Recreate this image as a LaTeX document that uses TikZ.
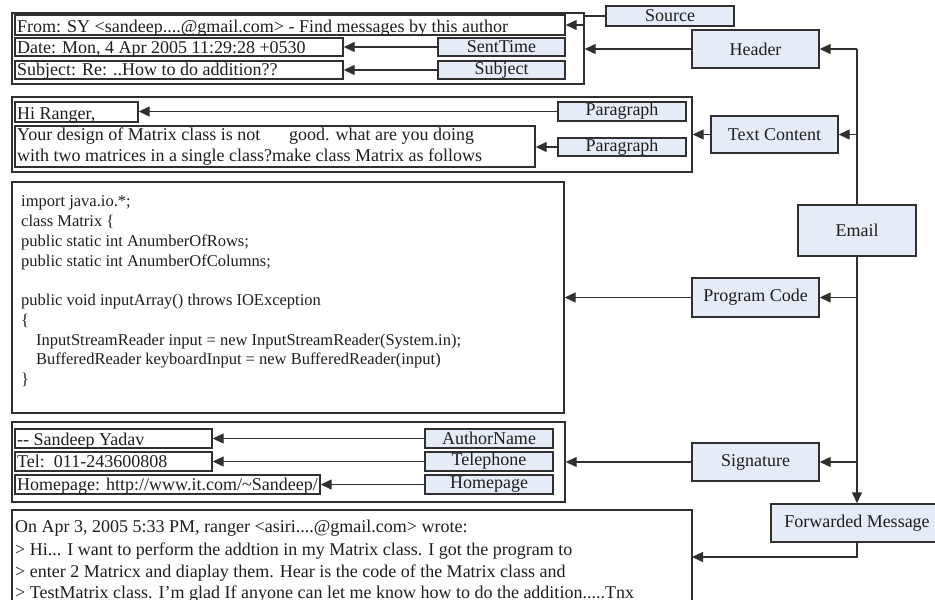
\documentclass[tikz,border=0pt]{standalone}
\usepackage{fontspec}
\setmainfont{Liberation Serif}
\usetikzlibrary{arrows.meta}
\definecolor{lblfill}{HTML}{E5ECF7}
\definecolor{edgec}{HTML}{303030}
\definecolor{txtc}{HTML}{1E1E1E}
\tikzset{
  grp/.style={draw=edgec, line width=1.4pt, inner sep=0pt},
  wbox/.style={draw=edgec, line width=1.4pt, inner sep=0pt},
  lab/.style={draw=edgec, line width=1.4pt, fill=lblfill, inner sep=0pt,
    font=\fontsize{18}{20}\selectfont, text=txtc},
  arr/.style={draw=edgec, line width=1.3pt, -{Triangle[length=11pt,width=10pt]}},
  ln/.style={draw=edgec, line width=1.3pt},
  tx/.style={anchor=base west, inner sep=0pt, font=\fontsize{18}{20}\selectfont, text=txtc},
  cx/.style={anchor=base west, inner sep=0pt, font=\fontsize{16.5}{20}\selectfont, text=txtc},
}
% \bx{style}{name}{x1}{y1}{x2}{y2}{text}
\newcommand\bx[7]{%
  \pgfmathsetmacro\bxcx{(#3+#5)/2}%
  \pgfmathsetmacro\bxcy{(#4+#6)/2}%
  \pgfmathsetmacro\bxw{#5-#3}%
  \pgfmathsetmacro\bxh{#6-#4}%
  \node[#1, minimum width=\bxw pt, minimum height=\bxh pt] (#2) at (\bxcx,\bxcy) {#7};%
}
\begin{document}
\begin{tikzpicture}[x=1pt,y=-1pt]
\useasboundingbox (0,0) rectangle (935,600);
% ---------- header group
\bx{grp}{hgrp}{12}{13}{584}{84}{}
\bx{wbox}{from}{15}{15}{565}{35}{}
\node[tx] (fromt) at (17,32) {From: SY <sandeep....@gmail.com> - Find messages by this author};
\bx{wbox}{date}{15}{38}{343}{56}{}
\node[tx] (datet) at (17,53) {Date: Mon, 4 Apr 2005 11:29:28 +0530};
\bx{lab}{st}{438}{38}{565}{56}{SentTime}
\bx{wbox}{subj}{15}{61}{343}{79}{}
\node[tx] (subjt) at (17,75) {Subject: Re: ..How to do addition??};
\bx{lab}{sb}{438}{61}{565}{79}{Subject}
\bx{lab}{src}{606}{6}{734}{26}{Source}
\bx{lab}{hdr}{692}{30}{819}{68}{Header}
% ---------- text content group
\bx{grp}{tgrp}{12}{97}{692}{172}{}
\bx{wbox}{hi}{15}{102}{138}{122}{}
\node[tx] (hit) at (17,119) {Hi Ranger,};
\bx{lab}{p1}{558}{102}{686}{121}{Paragraph}
\bx{wbox}{para}{15}{126}{535}{167}{}
\node[tx] (parat1) at (17,140) {Your design of Matrix class is not\hspace{1.6em}good. what are you doing};
\node[tx] (parat2) at (17,161) {with two matrices in a single class?make class Matrix as follows};
\bx{lab}{p2}{558}{138}{686}{156}{Paragraph}
\bx{lab}{tc}{711}{116}{838}{153}{Text Content}
% ---------- program code
\bx{grp}{code}{12}{182}{564}{413}{}
\node[cx] (c1) at (21,206) {import java.io.*;};
\node[cx] (c2) at (21,226) {class Matrix \{};
\node[cx] (c3) at (21,246) {public static int AnumberOfRows;};
\node[cx] (c4) at (21,266) {public static int AnumberOfColumns;};
\node[cx] (c5) at (21,305) {public void inputArray() throws IOException};
\node[cx] (c6) at (21,325) {\{};
\node[cx] (c7) at (36,345) {InputStreamReader input = new InputStreamReader(System.in);};
\node[cx] (c8) at (36,364) {BufferedReader keyboardInput = new BufferedReader(input)};
\node[cx] (c9) at (21,384) {\}};
\bx{lab}{pc}{692}{278}{819}{317}{Program Code}
\bx{lab}{email}{798}{205}{916}{256}{Email}
% ---------- signature
\bx{grp}{sgrp}{12}{422}{565}{502}{}
\bx{wbox}{an}{15}{429}{212}{448}{}
\node[tx] (ant) at (17,445) {-{}- Sandeep Yadav};
\bx{wbox}{tel}{15}{452}{212}{471}{}
\node[tx] (telt) at (17,467) {Tel:\ \ 011-243600808};
\bx{wbox}{hp}{15}{475}{320}{494}{}
\node[tx] (hpt) at (17,490) {Homepage: http://www.it.com/\textasciitilde Sandeep/};
\bx{lab}{anl}{425}{429}{553}{448}{AuthorName}
\bx{lab}{tell}{425}{452}{553}{471}{Telephone}
\bx{lab}{hpl}{425}{475}{553}{494}{Homepage}
\bx{lab}{sig}{692}{443}{819}{481}{Signature}
% ---------- forwarded message
\bx{grp}{fgrp}{12}{510}{692}{640}{}
\node[tx] (f1) at (15,532) {On Apr 3, 2005 5:33 PM, ranger <asiri....@gmail.com> wrote:};
\node[tx] (f2) at (15,555) {> Hi... I want to perform the addtion in my Matrix class. I got the program to};
\node[tx] (f3) at (15,577) {> enter 2 Matricx and diaplay them. Hear is the code of the Matrix class and};
\node[tx] (f4) at (15,598) {> TestMatrix class. I'm glad If anyone can let me know how to do the addition.....Tnx};
\bx{lab}{fm}{771}{504}{943}{542}{Forwarded Message}
% ---------- connectors
\coordinate (sp0) at (857,49);
\coordinate (fin) at (692,557);
\draw[arr] (src.west) -- ++(-21,0) |- (from.east);
\draw[arr] (hdr.west) -- (hdr.west -| hgrp.east);
\draw[arr] (st.west) -- (st.west -| date.east);
\draw[arr] (sb.west) -- (sb.west -| subj.east);
\draw[arr] (p1.west) -- (p1.west -| hi.east);
\draw[arr] (p2.west) -- (p2.west -| para.east);
\draw[arr] (tc.west) -- (tc.west -| tgrp.east);
\draw[arr] (pc.west) -- (pc.west -| code.east);
\draw[arr] (anl.west) -- (anl.west -| an.east);
\draw[arr] (tell.west) -- (tell.west -| tel.east);
\draw[arr] (hpl.west) -- (hpl.west -| hp.east);
\draw[arr] (sig.west) -- (sig.west -| sgrp.east);
\draw[ln] (sp0) -- (email.north);
\draw[arr] (email.south) -- (fm.north);
\draw[arr] (sp0) -- (hdr.east);
\draw[arr] (tc.east -| email.north) -- (tc.east);
\draw[arr] (pc.east -| email.south) -- (pc.east);
\draw[arr] (sig.east -| email.south) -- (sig.east);
\draw[arr] (fm.south) |- (fin);
\end{tikzpicture}
\end{document}
